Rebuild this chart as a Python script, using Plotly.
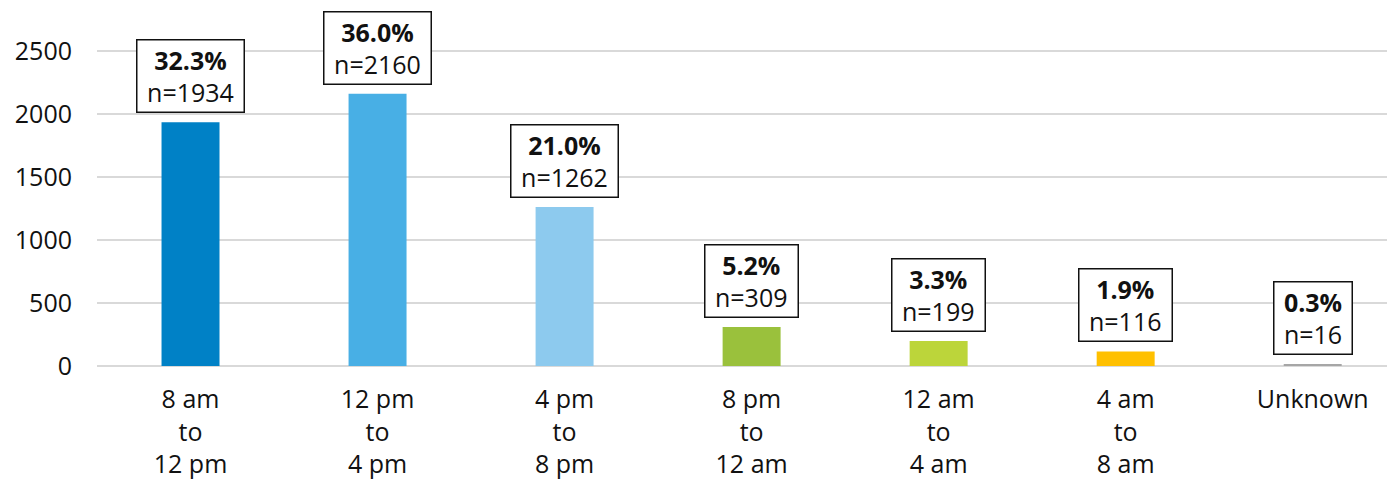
import plotly.graph_objects as go

categories = ["8 am<br>to<br>12 pm", "12 pm<br>to<br>4 pm", "4 pm<br>to<br>8 pm", "8 pm<br>to<br>12 am",
              "12 am<br>to<br>4 am", "4 am<br>to<br>8 am", "Unknown"]
counts = [1934, 2160, 1262, 309, 199, 116, 16]
percents = ["32.3%", "36.0%", "21.0%", "5.2%", "3.3%", "1.9%", "0.3%"]
colors = ["#0081C6", "#48AFE5", "#8DCAEE", "#9AC13C", "#BCD53A", "#FFC000", "#A6A6A6"]
ytick_vals = [0, 500, 1000, 1500, 2000, 2500]

FONT = "Open Sans"
FS = 25

fig = go.Figure()
fig.add_trace(go.Bar(x=categories, y=counts, marker=dict(color=colors, line=dict(width=0)),
                     width=0.31, hoverinfo="skip"))

for c, n, p in zip(categories, counts, percents):
    label = f"n={n}"
    box_w = 44 + 14.5 * (len(label) - 2)
    fig.add_annotation(x=c, y=n, xref="x", yref="y", yanchor="bottom", yshift=9,
                       text=f"<b>{p}</b><br>{label}", showarrow=False,
                       font=dict(family=FONT, size=FS, color="#111111"),
                       bordercolor="#111111", borderwidth=1.5, borderpad=2,
                       width=box_w, bgcolor="white", align="center")

fig.update_layout(
    width=1395, height=479,
    margin=dict(l=89, r=8, t=22, b=121),
    plot_bgcolor="white", paper_bgcolor="white",
    showlegend=False,
    font=dict(family=FONT, size=FS, color="#111111"),
)
fig.update_xaxes(range=[-0.5, 6.44], showline=False, showgrid=False, ticks="", automargin=False,
                 tickfont=dict(family=FONT, size=FS, color="#111111"), ticklabelstandoff=16)
fig.update_yaxes(range=[0, 2666.7], tickvals=ytick_vals, showgrid=True, gridcolor="#D9D9D9",
                 gridwidth=1.5, zeroline=True, zerolinecolor="#D9D9D9", zerolinewidth=1.5,
                 showline=False, ticks="", automargin=False,
                 tickfont=dict(family=FONT, size=FS, color="#111111"),
                 ticklabelstandoff=24)

fig.write_html("out.html")
